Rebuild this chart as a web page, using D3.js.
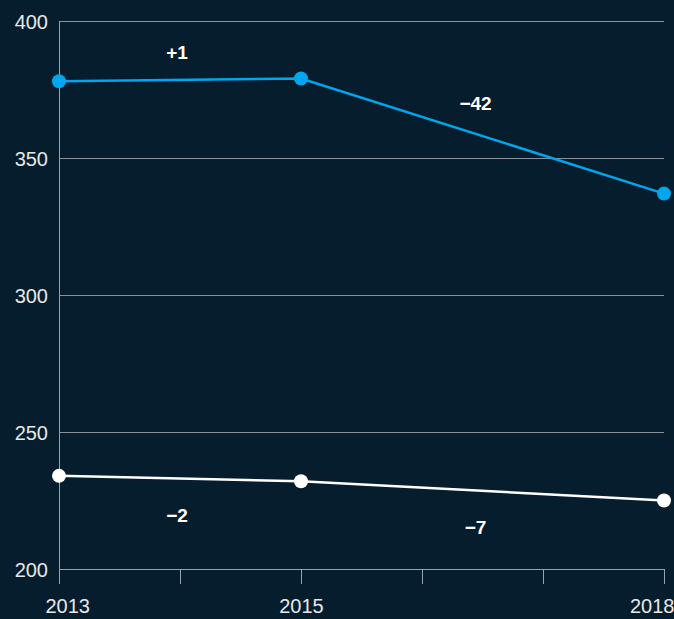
<!DOCTYPE html>
<html>
<head>
<meta charset="utf-8">
<script src="https://cdn.jsdelivr.net/npm/d3@7"></script>
<style>
  html, body { margin: 0; padding: 0; background: #061d2d; }
  svg { display: block; }
</style>
</head>
<body>
<div id="chart"></div>
<script>
const years = [2013, 2015, 2018];
const blueValues = [378, 379, 337];
const whiteValues = [234, 232, 225];
const blueChanges = ["+1", "\u221242"];
const whiteChanges = ["\u22122", "\u22127"];
const yTicks = [200, 250, 300, 350, 400];
const xTickYears = [2013, 2014, 2015, 2016, 2017, 2018];
const xLabelYears = [2013, 2015, 2018];

const W = 674, H = 619;
const bg = "#061d2d";
const blue = "#00a6ee";
const white = "#ffffff";

const svg = d3.select("#chart").append("svg")
  .attr("width", W).attr("height", H)
  .style("background", bg);

const x = d3.scaleLinear().domain([2013, 2018]).range([59, 664]);
const y = d3.scaleLinear().domain([200, 400]).range([569, 21]);

// horizontal gridlines
svg.append("g").selectAll("line")
  .data(yTicks.filter(d => d !== 200))
  .join("line")
  .attr("x1", x(2013)).attr("x2", x(2018))
  .attr("y1", d => Math.round(y(d)) + 0.5).attr("y2", d => Math.round(y(d)) + 0.5)
  .attr("stroke", "#8a9199").attr("stroke-width", 1);

// y axis
const yAxis = svg.append("g")
  .attr("transform", `translate(${x(2013)},0)`)
  .call(d3.axisLeft(y).tickValues(yTicks).tickSize(0).tickPadding(11));
yAxis.select(".domain").remove();
yAxis.selectAll("text")
  .attr("fill", "#e6e8ea")
  .style("font-family", "Liberation Sans, Arial, sans-serif")
  .style("font-size", "20px")
  .attr("dy", "0.36em");

// left axis line
svg.append("line")
  .attr("x1", x(2013) + 0.5).attr("x2", x(2013) + 0.5)
  .attr("y1", y(400)).attr("y2", y(200) + 15)
  .attr("stroke", "#9aa1a8").attr("stroke-width", 1);

// x axis
const xAxis = svg.append("g")
  .attr("transform", `translate(0,${y(200)})`)
  .call(d3.axisBottom(x).tickValues(xTickYears).tickSize(15)
    .tickFormat(d => xLabelYears.includes(d) ? String(d) : ""));
xAxis.select(".domain")
  .attr("stroke", "#9aa1a8");
xAxis.selectAll(".tick line").attr("stroke", "#9aa1a8");
xAxis.selectAll("text")
  .attr("fill", "#e6e8ea")
  .attr("y", 44)
  .attr("dy", 0)
  .style("font-family", "Liberation Sans, Arial, sans-serif")
  .style("font-size", "20px")
  .attr("text-anchor", d => d === 2013 ? "start" : d === 2018 ? "end" : "middle")
  .attr("dx", d => d === 2013 ? -14 : d === 2018 ? 10 : 0);

const line = d3.line().x((d, i) => x(years[i])).y(d => y(d));

function drawSeries(vals, color, changes, above) {
  svg.append("path")
    .datum(vals)
    .attr("d", line)
    .attr("fill", "none")
    .attr("stroke", color)
    .attr("stroke-width", 2.5);
  svg.append("g").selectAll("circle")
    .data(vals)
    .join("circle")
    .attr("cx", (d, i) => x(years[i]))
    .attr("cy", d => y(d))
    .attr("r", 7)
    .attr("fill", color);
  svg.append("g").selectAll("text")
    .data(changes)
    .join("text")
    .attr("x", (d, i) => (x(years[i]) + x(years[i + 1])) / 2 - (i === 0 ? 3 : 7))
    .attr("y", (d, i) => y((vals[i] + vals[i + 1]) / 2) + (above ? (i === 0 ? -21 : -26) : 43))
    .attr("text-anchor", "middle")
    .attr("fill", "#ffffff")
    .style("font-family", "Liberation Sans, Arial, sans-serif")
    .style("font-size", "19px")
    .style("font-weight", "bold")
    .text(d => d);
}

drawSeries(blueValues, blue, blueChanges, true);
drawSeries(whiteValues, white, whiteChanges, false);
</script>
</body>
</html>
